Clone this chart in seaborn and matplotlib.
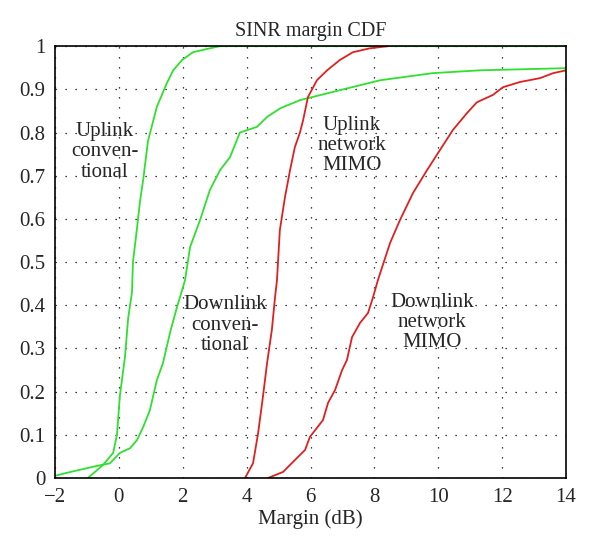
import numpy as np
import pandas as pd
import matplotlib
matplotlib.use('Agg')
import matplotlib.pyplot as plt
import seaborn as sns

# CDF curves (margin in dB, cumulative probability)
ul_conv_x = [-0.97, -0.5, -0.18, -0.06, 0.03, 0.19, 0.29, 0.41, 0.44, 0.56, 0.66, 0.76,
             0.91, 1.19, 1.5, 1.7, 1.98, 2.32, 2.85, 3.17, 14.0]
ul_conv_y = [0.0, 0.03, 0.058, 0.10, 0.19, 0.28, 0.37, 0.43, 0.50, 0.574, 0.64, 0.69,
             0.78, 0.86, 0.914, 0.944, 0.968, 0.986, 0.995, 1.0, 1.0]

dl_conv_x = [-2.0, -1.63, -1.22, -0.69, -0.28, 0.03, 0.35, 0.57, 0.76, 0.97, 1.19, 1.38,
             1.6, 1.82, 2.0, 2.07, 2.23, 2.54, 2.85, 3.17, 3.48, 3.79, 4.32, 4.64, 5.05,
             5.67, 6.92, 8.18, 9.83, 11.3, 14.0]
dl_conv_y = [0.005, 0.012, 0.019, 0.028, 0.034, 0.058, 0.069, 0.088, 0.118, 0.157, 0.227,
             0.266, 0.336, 0.396, 0.44, 0.458, 0.535, 0.597, 0.667, 0.713, 0.743, 0.80,
             0.813, 0.836, 0.856, 0.875, 0.898, 0.921, 0.9375, 0.944, 0.949]

ul_mimo_x = [3.95, 4.2, 4.36, 4.51, 4.64, 4.79, 4.89, 4.95, 5.04, 5.2, 5.36, 5.51, 5.67,
             5.77, 5.92, 6.2, 6.52, 6.92, 7.33, 7.86, 8.43]
ul_mimo_y = [0.0, 0.034, 0.104, 0.188, 0.266, 0.343, 0.419, 0.458, 0.574, 0.65, 0.713,
             0.766, 0.80, 0.829, 0.882, 0.921, 0.944, 0.968, 0.986, 0.995, 1.0]

dl_mimo_x = [4.67, 5.14, 5.45, 5.83, 5.98, 6.39, 6.55, 6.77, 6.99, 7.14, 7.3, 7.55, 7.8,
             7.96, 8.11, 8.49, 8.8, 9.21, 9.65, 10.05, 10.46, 10.9, 11.21, 11.71, 12.03,
             12.56, 13.19, 13.6, 14.0]
dl_mimo_y = [0.0, 0.014, 0.037, 0.065, 0.095, 0.134, 0.174, 0.204, 0.25, 0.273, 0.326,
             0.359, 0.382, 0.419, 0.458, 0.544, 0.597, 0.66, 0.713, 0.759, 0.806, 0.845,
             0.87, 0.887, 0.905, 0.917, 0.926, 0.9375, 0.944]

labels = ['Uplink\nconven-\ntional', 'Downlink\nconven-\ntional',
          'Uplink\nnetwork\nMIMO', 'Downlink\nnetwork\nMIMO']
label_x = [-0.45, 3.32, 7.3, 9.8]
label_y = [0.755, 0.354, 0.77, 0.36]

green = '#2fe02f'
red = '#e02020'

sns.set_style('white')
plt.rcParams['font.family'] = ['Liberation Serif', 'DejaVu Serif']

fig = plt.figure(figsize=(6, 5.56), dpi=100)
ax = fig.add_axes([0.0917, 0.1403, 0.8516, 0.7767])

curves = [(ul_conv_x, ul_conv_y, green), (dl_conv_x, dl_conv_y, green),
          (ul_mimo_x, ul_mimo_y, red), (dl_mimo_x, dl_mimo_y, red)]
for xs, ys, c in curves:
    sns.lineplot(x=xs, y=ys, ax=ax, color=c, lw=1.3, sort=False, estimator=None)

for t, tx, ty in zip(labels, label_x, label_y):
    ax.text(tx, ty, t, ha='center', va='center', fontsize=15, linespacing=1.1)

ax.set_xlim(-2, 14)
ax.set_ylim(0, 1)
ax.set_xticks(np.arange(-2, 15, 2))
ax.set_xticklabels(['\u22122', '0', '2', '4', '6', '8', '10', '12', '14'])
ax.set_yticks(np.arange(0, 1.01, 0.1))
ax.set_yticklabels(['0', '0.1', '0.2', '0.3', '0.4', '0.5', '0.6', '0.7', '0.8', '0.9', '1'])
ax.tick_params(labelsize=15, direction='in', length=0, pad=7)
ax.grid(True, color='black', linestyle=(0, (1, 7)), lw=0.9)
for s in ax.spines.values():
    s.set_color('black')
    s.set_linewidth(1.2)

ax.set_title('SINR margin CDF', fontsize=14.5, pad=7)
ax.set_xlabel('Margin (dB)', fontsize=15, labelpad=2)

plt.savefig('out.png', dpi=100)
